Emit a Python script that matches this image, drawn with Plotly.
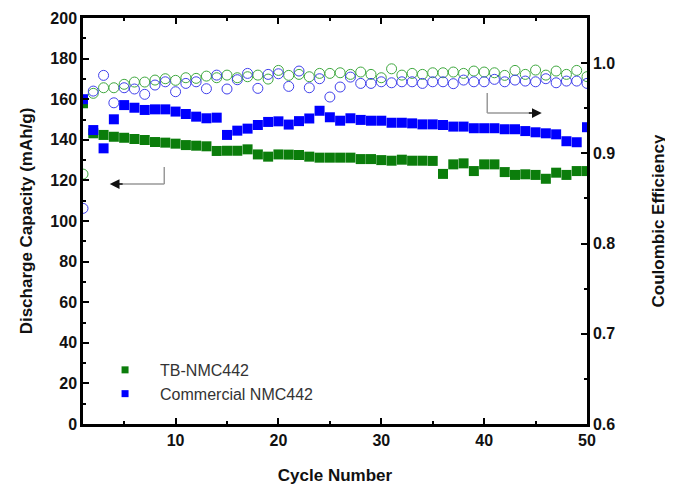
import plotly.graph_objects as go

cycles = list(range(1, 51))

tb_capacity = [158.0, 143.2, 142.4, 141.5, 141.0, 140.4, 139.9, 138.9, 138.6, 138.1,
               137.4, 137.1, 136.8, 134.5, 134.6, 134.6, 135.3, 132.8, 131.7, 132.8,
               132.7, 132.5, 131.7, 131.2, 131.2, 131.2, 131.2, 130.5, 130.5, 130.0,
               129.7, 130.2, 129.7, 129.7, 129.6, 123.2, 127.9, 128.4, 124.6, 127.9,
               127.9, 124.1, 122.7, 123.0, 122.7, 120.8, 123.8, 122.7, 124.6, 124.6]

com_capacity = [160.0, 144.8, 135.8, 150.1, 157.1, 155.8, 154.7, 155.0, 155.0, 153.9,
                152.7, 151.4, 150.6, 150.9, 142.4, 144.5, 145.5, 147.3, 148.8, 149.1,
                147.5, 149.2, 150.5, 154.3, 151.1, 149.4, 150.6, 149.8, 149.4, 149.4,
                148.4, 148.4, 148.1, 147.6, 147.6, 147.3, 146.5, 146.5, 145.7, 145.7,
                145.7, 145.2, 145.2, 144.3, 143.7, 143.2, 142.7, 139.3, 138.8, 146.2]

tb_ce = [0.877, 0.9665, 0.9727, 0.9727, 0.9765, 0.979, 0.979, 0.9812, 0.9827, 0.9809,
         0.9838, 0.9831, 0.9856, 0.9838, 0.9867, 0.9838, 0.9849, 0.9867, 0.9823, 0.9919,
         0.9864, 0.9875, 0.9849, 0.9886, 0.9886, 0.9893, 0.9875, 0.9901, 0.9875, 0.9838,
         0.9937, 0.9867, 0.9886, 0.9875, 0.9893, 0.9893, 0.9901, 0.9886, 0.9912, 0.9901,
         0.9893, 0.9864, 0.9919, 0.9875, 0.9923, 0.9867, 0.9912, 0.9875, 0.9919, 0.985]

com_ce = [0.839, 0.969, 0.9864, 0.956, 0.9727, 0.9713, 0.9654, 0.9757, 0.9793, 0.9683,
          0.9775, 0.9793, 0.9716, 0.9867, 0.9713, 0.9816, 0.9886, 0.972, 0.9875, 0.9882,
          0.9742, 0.9912, 0.9727, 0.9827, 0.9624, 0.9735, 0.9845, 0.9775, 0.9775, 0.9793,
          0.9782, 0.9793, 0.9793, 0.9775, 0.9793, 0.9793, 0.9772, 0.9812, 0.9793, 0.9793,
          0.982, 0.9793, 0.9812, 0.9801, 0.9793, 0.9827, 0.9782, 0.9801, 0.9801, 0.9775]

series_names = ["TB-NMC442", "Commercial NMC442"]

GREEN = "#0b7d0b"
BLUE = "#0000ff"
FONT = "Liberation Sans, Arial, sans-serif"

fig = go.Figure()

# Coulombic efficiency (open circles, right axis)
fig.add_trace(go.Scatter(x=cycles, y=tb_ce, mode="markers", yaxis="y2", showlegend=False,
                         marker=dict(symbol="circle-open", size=10, color="#3fa83f",
                                     line=dict(width=1))))
fig.add_trace(go.Scatter(x=cycles, y=com_ce, mode="markers", yaxis="y2", showlegend=False,
                         marker=dict(symbol="circle-open", size=10, color="#4040ec",
                                     line=dict(width=1))))

# Discharge capacity (filled squares, left axis)
fig.add_trace(go.Scatter(x=cycles, y=tb_capacity, mode="markers", name=series_names[0],
                         showlegend=False, legendgroup="tb",
                         marker=dict(symbol="square", size=10, color=GREEN)))
fig.add_trace(go.Scatter(x=cycles, y=com_capacity, mode="markers", name=series_names[1],
                         showlegend=False, legendgroup="com",
                         marker=dict(symbol="square", size=10, color=BLUE)))

# legend entries (small square symbols, as in the original legend)
fig.add_trace(go.Scatter(x=[None], y=[None], mode="markers", name=series_names[0],
                         legendgroup="tb", marker=dict(symbol="square", size=7, color=GREEN)))
fig.add_trace(go.Scatter(x=[None], y=[None], mode="markers", name=series_names[1],
                         legendgroup="com", marker=dict(symbol="square", size=7, color=BLUE)))

axis_common = dict(showline=True, linecolor="black", linewidth=2.5, ticks="inside",
                   tickcolor="black", tickwidth=2, ticklen=6, showgrid=False, zeroline=False,
                   automargin=False,
                   tickfont=dict(family=FONT, size=16, color="#111", weight="bold"))
minor_common = dict(ticks="inside", ticklen=3, tickwidth=2, tickcolor="black")

# page body has an 8px default margin, so the figure is shifted by 8px
fig.update_layout(
    template="none",
    width=665, height=480,
    margin=dict(l=75, r=86, t=10, b=64, autoexpand=False),
    paper_bgcolor="white", plot_bgcolor="white",
    font=dict(family=FONT, color="#111"),
    xaxis=dict(range=[1, 50], dtick=10, tick0=0, mirror="ticks",
               minor=dict(dtick=5, **minor_common),
               title=dict(text="<b>Cycle Number</b>", font=dict(size=17), standoff=22),
               **axis_common),
    yaxis=dict(range=[0, 200], dtick=20,
               minor=dict(dtick=10, **minor_common),
               title=dict(text="<b>Discharge Capacity (mAh/g)</b>", font=dict(size=17), standoff=14),
               **axis_common),
    yaxis2=dict(range=[0.6, 1.05], dtick=0.1, tick0=0.6, tickformat=".1f",
                overlaying="y", side="right",
                minor=dict(dtick=0.05, **minor_common),
                title=dict(text="<b>Coulombic Efficiency</b>", font=dict(size=17), standoff=38),
                **axis_common),
    legend=dict(x=0.014, y=0.175, xanchor="left", yanchor="top", bgcolor="rgba(0,0,0,0)",
                font=dict(family=FONT, size=16, color="#333"), itemwidth=60,
                tracegroupgap=0),
)

# Arrow pointing to the left axis
fig.add_shape(type="line", xref="x", yref="y", x0=8.9, x1=8.9, y0=126.6, y1=118.2,
              line=dict(color="#999", width=1.5))
fig.add_shape(type="line", xref="x", yref="y", x0=8.9, x1=4.5, y0=118.2, y1=118.2,
              line=dict(color="#999", width=1.5))
fig.add_annotation(x=3.6, y=118.2, ax=5.0, ay=118.2, xref="x", yref="y", axref="x", ayref="y",
                   text="", showarrow=True, arrowhead=2, arrowsize=1.3, arrowwidth=1.5,
                   arrowcolor="#111")
# Arrow pointing to the right axis
fig.add_shape(type="line", xref="x", yref="y", x0=40.3, x1=40.3, y0=163, y1=153.2,
              line=dict(color="#999", width=1.5))
fig.add_shape(type="line", xref="x", yref="y", x0=40.3, x1=44.6, y0=153.2, y1=153.2,
              line=dict(color="#999", width=1.5))
fig.add_annotation(x=45.6, y=153.2, ax=44.2, ay=153.2, xref="x", yref="y", axref="x", ayref="y",
                   text="", showarrow=True, arrowhead=2, arrowsize=1.3, arrowwidth=1.5,
                   arrowcolor="#111")

fig.write_html("out.html")
